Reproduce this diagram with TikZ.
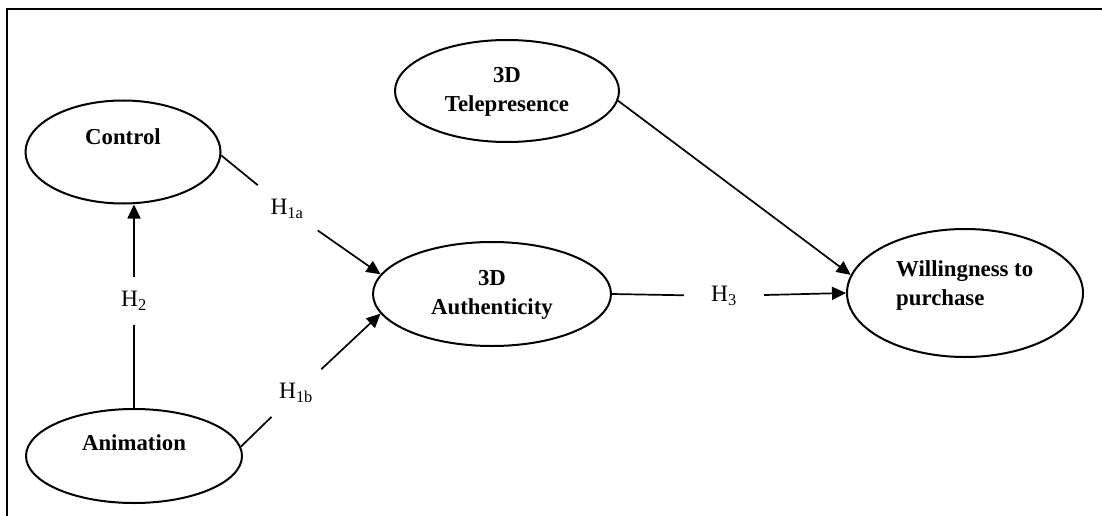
\documentclass[tikz,border=0pt]{standalone}
\usepackage{fontspec}
\setmainfont{Liberation Serif}
\usetikzlibrary{shapes,arrows.meta}
\usetikzlibrary{positioning}

\begin{document}
\begin{tikzpicture}[
        x=1pt, y=-1pt,
        construct/.style={draw, ellipse, line width=2pt, inner sep=0pt},
        title/.style={font={\fontsize{22.8}{29}\selectfont\bfseries}, align=center, inner sep=0pt},
        hyp/.style={font={\fontsize{23.5}{26}\selectfont}, inner sep=14pt},
        ]
        \tikzstyle{link} = [line width=1.7pt];
        \tikzstyle{arrow} = [link, -{Triangle[length=14pt,width=13pt]}];
        \useasboundingbox (0,0) rectangle (1102,516);
        % frame
        \draw[line width=1.8pt] (7,516) -- (7,9) -- (1102,9);
        % constructs
        \node[construct, minimum width=195pt, minimum height=103pt] (control) at (123,152) {};
        \node[construct, minimum width=216pt, minimum height=94pt] (anim) at (134,456) {};
        \node[construct, minimum width=238pt, minimum height=104pt] (auth) at (492,294) {};
        \node[construct, minimum width=224pt, minimum height=102pt] (tele) at (507,91) {};
        \node[construct, minimum width=236pt, minimum height=128pt] (will) at (965,293) {};
        \node[title] (control-txt) at (123,137) {Control};
        \node[title] (anim-txt) at (134,443) {Animation};
        \node[title] (auth-txt) at (492,295) {3D\\Authenticity};
        \node[title] (tele-txt) at (507,92) {3D\\Telepresence};
        \node[title, align=left, anchor=west] (will-txt) at (896,286) {Willingness to\\purchase};
        % hypotheses
        \node[hyp] (h1a) at (287,209) {H\textsubscript{1a}};
        \node[hyp] (h1b) at (296,393) {H\textsubscript{1b}};
        \node[hyp] (h2) at (134,301) {H\textsubscript{2}};
        \node[hyp, inner xsep=27pt] (h3) at (724,296) {H\textsubscript{3}};
        % paths
        \draw[link] (control.-2) -- (h1a);
        \draw[arrow] (h1a) -- (auth.170);
        \draw[link] (anim.5) -- (h1b);
        \draw[arrow] (h1b) -- (auth.190);
        \draw[link] (anim.north) -- (h2);
        \draw[arrow] (h2) -- (h2 |- control.south);
        \draw[link] (auth.east) -- (h3);
        \draw[arrow] (h3) -- (will.west);
        \draw[arrow] (tele.-5) -- (will.171);
\end{tikzpicture}
\end{document}
